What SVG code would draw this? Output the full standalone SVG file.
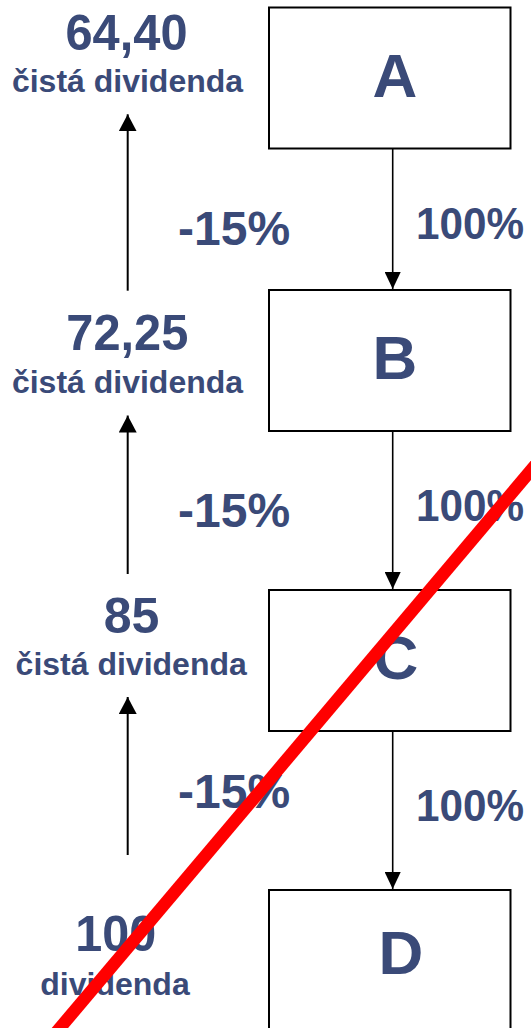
<svg xmlns="http://www.w3.org/2000/svg" width="531" height="1028" viewBox="0 0 531 1028">
<style>
.box{fill:#fff;stroke:#000;stroke-width:2}
.t{font-family:"Liberation Sans",Arial,sans-serif;font-weight:bold;fill:#3A4A78}
.big{font-size:50px;text-anchor:middle}
.sub{font-size:32px;text-anchor:middle}
.pct{font-size:48px}
.pc{font-size:45px}
.let{font-size:62px;text-anchor:middle}
.dn{stroke:#000;stroke-width:1.6;fill:none}
.up{stroke:#000;stroke-width:2;fill:none}
</style>
<defs>
<marker id="ah" viewBox="0 0 17 16" refX="17" refY="8" markerWidth="17" markerHeight="16" markerUnits="userSpaceOnUse" orient="auto">
<path d="M0,0 L17,8 L0,16 Z" fill="#000"/>
</marker>
<marker id="ahu" viewBox="0 0 17 18" refX="17" refY="9" markerWidth="17" markerHeight="18" markerUnits="userSpaceOnUse" orient="auto">
<path d="M0,0 L17,9 L0,18 Z" fill="#000"/>
</marker>
</defs>
<g id="node-A">
<rect class="box" x="269" y="7.5" width="241.5" height="141"/>
<text class="t let" x="395" y="97">A</text>
</g>
<g id="node-B">
<rect class="box" x="269" y="290" width="241.5" height="141"/>
<text class="t let" x="395" y="379">B</text>
</g>
<g id="node-C">
<rect class="box" x="269" y="590" width="241.5" height="141"/>
<text class="t let" x="396" y="679">C</text>
</g>
<g id="node-D">
<rect class="box" x="269" y="890" width="241.5" height="160"/>
<text class="t let" x="401" y="974">D</text>
</g>
<g id="labels">
<text class="t big" x="126.5" y="50" textLength="122" lengthAdjust="spacingAndGlyphs">64,40</text>
<text class="t sub" x="127.5" y="91.5">čistá dividenda</text>
<text class="t big" x="127.3" y="350" textLength="122" lengthAdjust="spacingAndGlyphs">72,25</text>
<text class="t sub" x="127.5" y="392.5">čistá dividenda</text>
<text class="t big" x="131.5" y="632.5">85</text>
<text class="t sub" x="131.2" y="674.5">čistá dividenda</text>
<text class="t big" x="115.8" y="950.5" textLength="81" lengthAdjust="spacingAndGlyphs">100</text>
<text class="t sub" x="115" y="994.5">dividenda</text>
<text class="t pct" x="178" y="244.5">-15%</text>
<text class="t pct" x="178" y="527">-15%</text>
<text class="t pct" x="178" y="807.5">-15%</text>
<text class="t pc" x="416" y="239" textLength="108" lengthAdjust="spacingAndGlyphs">100%</text>
<text class="t pc" x="416" y="521" textLength="108" lengthAdjust="spacingAndGlyphs">100%</text>
<text class="t pc" x="416" y="821" textLength="108" lengthAdjust="spacingAndGlyphs">100%</text>
</g>
<g id="connectors">
<line class="dn" x1="392.7" y1="149" x2="392.7" y2="289" marker-end="url(#ah)"/>
<line class="dn" x1="392.7" y1="432" x2="392.7" y2="589" marker-end="url(#ah)"/>
<line class="dn" x1="392.7" y1="732" x2="392.7" y2="889" marker-end="url(#ah)"/>
<line class="up" x1="127.7" y1="290.7" x2="127.7" y2="114.3" marker-end="url(#ahu)"/>
<line class="up" x1="127.7" y1="574" x2="127.7" y2="415.5" marker-end="url(#ahu)"/>
<line class="up" x1="127.7" y1="855" x2="127.7" y2="697" marker-end="url(#ahu)"/>
</g>
<line id="cross" x1="543" y1="456" x2="54" y2="1035" stroke="#FF0000" stroke-width="12.5"/>
</svg>
